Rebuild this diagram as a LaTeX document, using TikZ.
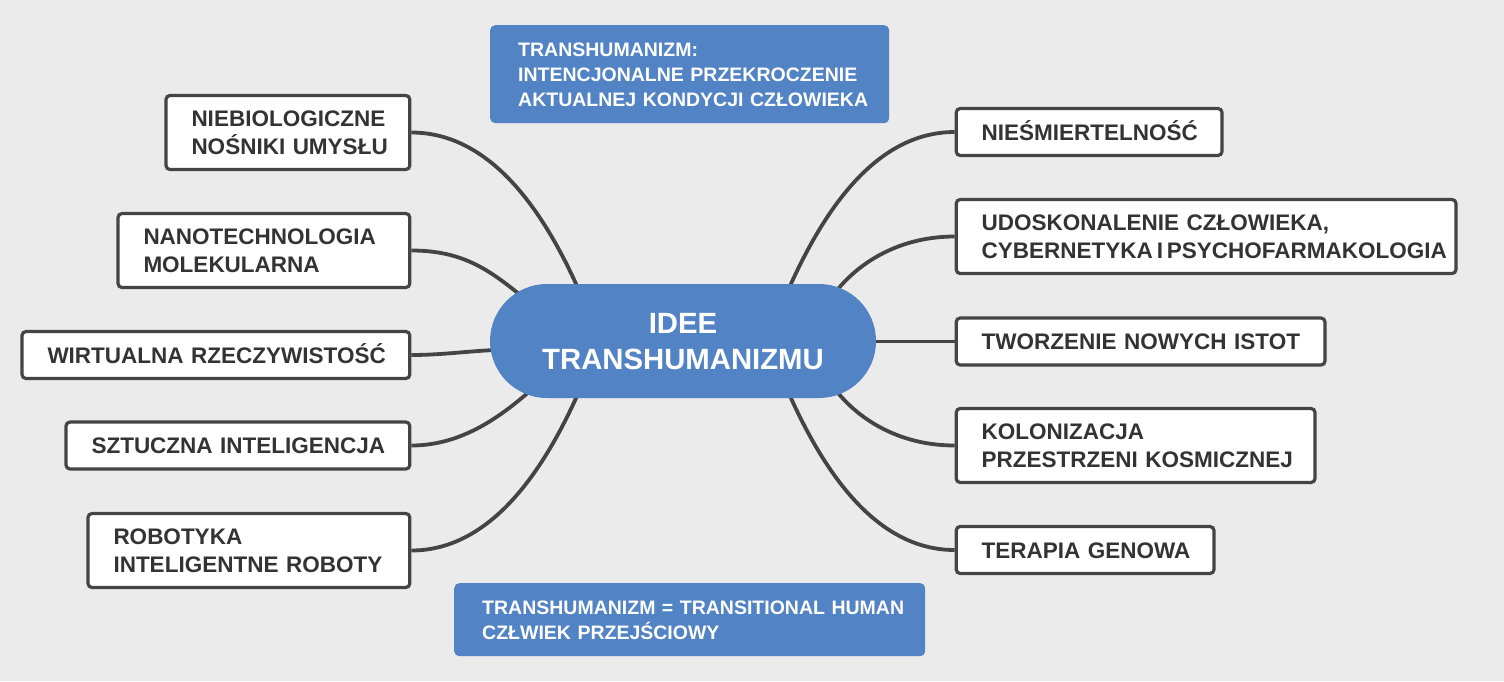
\documentclass[tikz,border=0pt]{standalone}
\usepackage{fontspec}
\setmainfont{Liberation Sans}
\usetikzlibrary{shapes.misc,calc}
\definecolor{bgc}{HTML}{EBEBEB}
\definecolor{bluec}{HTML}{5283C5}
\definecolor{linec}{HTML}{444444}
\definecolor{txtc}{HTML}{333333}
\newcommand{\lstr}{\rule[-0.2em]{0pt}{1.116em}}
\newcommand{\lline}[1]{\mbox{\lstr #1}}
\pgfdeclarelayer{back}
\pgfsetlayers{back,main}
\begin{document}
\begin{tikzpicture}[x=1pt,y=-1pt,
  idea/.style={draw=linec, line width=3.2pt, fill=white, rounded corners=4pt, text=txtc,
    font=\fontsize{22.5}{28.5}\selectfont\bfseries, align=left, inner xsep=25.5pt, inner ysep=0pt},
  one/.style={idea, minimum height=47pt},
  two/.style={idea, minimum height=74pt},
  link/.style={draw=linec, line width=3.8pt},
  note/.style={fill=bluec, rounded corners=5pt, text=white,
    font=\fontsize{19.5}{25}\selectfont\bfseries, align=left, inner xsep=28pt, inner ysep=0pt}]
\useasboundingbox (0,0) rectangle (1504,681);

\node[rounded rectangle, fill=bluec, minimum width=386pt, minimum height=114pt, inner sep=0pt,
  text=white, font=\fontsize{29.3}{36}\selectfont\bfseries, align=center] (c) at (683,341)
  {\lstr IDEE\\\lstr TRANSHUMANIZMU};

\node[note, anchor=north west, minimum height=98pt, text width=343pt] (top) at (490,25)
  {\lline{TRANSHUMANIZM:}\\\lline{INTENCJONALNE PRZEKROCZENIE}\\\lline{AKTUALNEJ KONDYCJI CZŁOWIEKA}};
\node[note, anchor=north west, minimum height=73pt, text width=415pt] (bot) at (454,583)
  {\lline{TRANSHUMANIZM = TRANSITIONAL HUMAN}\\\lline{CZŁWIEK PRZEJŚCIOWY}};

\node[two, anchor=east, text width=192.8pt] (l1) at (411.4,132.5) {\lline{NIEBIOLOGICZNE}\\\lline{NOŚNIKI UMYSŁU}};
\node[two, anchor=east, text width=240.8pt] (l2) at (411.4,250.5) {\lline{NANOTECHNOLOGIA}\\\lline{MOLEKULARNA}};
\node[one, anchor=east, text width=336.8pt] (l3) at (411.4,355) {\lline{WIRTUALNA RZECZYWISTOŚĆ}};
\node[one, anchor=east, text width=292.8pt] (l4) at (411.4,445.5) {\lline{SZTUCZNA INTELIGENCJA}};
\node[two, anchor=east, text width=270.8pt] (l5) at (411.4,550.5) {\lline{ROBOTYKA}\\\lline{INTELIGENTNE ROBOTY}};

\node[one, anchor=west, text width=214.8pt] (r1) at (954.6,132) {\lline{NIEŚMIERTELNOŚĆ}};
\node[two, anchor=west, text width=448.8pt] (r2) at (954.6,236.5) {\lline{UDOSKONALENIE CZŁOWIEKA,}\\\lline{CYBERNETYKA\hspace{0.17em}I\hspace{0.17em}PSYCHOFARMAKOLOGIA}};
\node[one, anchor=west, text width=317.8pt] (r3) at (954.6,341.5) {\lline{TWORZENIE NOWYCH ISTOT}};
\node[two, anchor=west, text width=307.8pt] (r4) at (954.6,445.5) {\lline{KOLONIZACJA}\\\lline{PRZESTRZENI KOSMICZNEJ}};
\node[one, anchor=west, text width=206.8pt] (r5) at (954.6,550) {\lline{TERAPIA GENOWA}};

\begin{pgfonlayer}{back}
\fill[bgc] (0,0) rectangle (1504,681);
\draw[link] (l1.east) .. controls +(80,0) and +(-33,-73) .. ($(c)+(-106,-55)$);
\draw[link] (l2.east) .. controls +(50,0) and +(-31,-25) .. ($(c)+(-164,-47)$);
\draw[link] (l3.east) .. controls +(30,0) and +(-25,1) .. ($(c)+(-188,9)$);
\draw[link] (l4.east) .. controls +(50,0) and +(-30,26) .. ($(c)+(-153,50)$);
\draw[link] (l5.east) .. controls +(80,0) and +(-33,73) .. ($(c)+(-106,55)$);
\draw[link] (r1.west) .. controls +(-80,0) and +(33,-73) .. ($(c)+(107,-55)$);
\draw[link] (r2.west) .. controls +(-50,0) and +(26,-31) .. ($(c)+(155,-52)$);
\draw[link] (r3.west) -- ($(c)+(190,0.5)$);
\draw[link] (r4.west) .. controls +(-50,0) and +(26,31) .. ($(c)+(155,52)$);
\draw[link] (r5.west) .. controls +(-80,0) and +(33,73) .. ($(c)+(107,55)$);
\end{pgfonlayer}
\end{tikzpicture}
\end{document}
